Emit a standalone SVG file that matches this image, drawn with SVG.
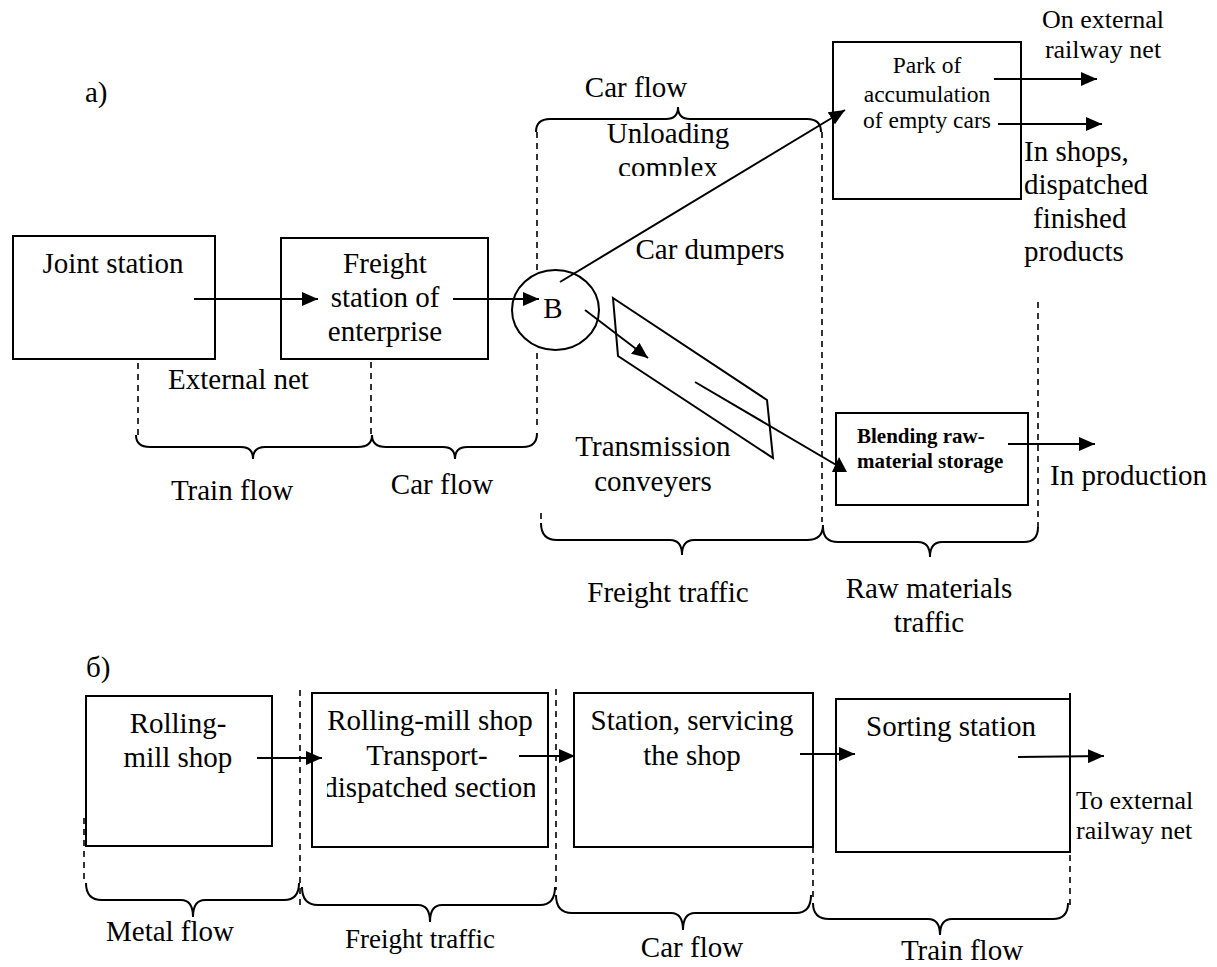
<svg xmlns="http://www.w3.org/2000/svg" width="1217" height="967" viewBox="0 0 1217 967">
<style>
text{font-family:"Liberation Serif","Times New Roman",serif;font-size:29px;fill:#000}
.c{text-anchor:middle}
.sm{font-size:23.5px}
.md{font-size:26px}
.b{font-weight:bold;font-size:21px}
.box{fill:#fff;stroke:#000;stroke-width:2}
.ln{fill:none;stroke:#000;stroke-width:2}
.dash{fill:none;stroke:#000;stroke-width:1.6;stroke-dasharray:6 5}
.br{fill:none;stroke:#000;stroke-width:2}
</style>
<defs>
<marker id="ah" markerWidth="16" markerHeight="14" refX="16" refY="7" orient="auto" markerUnits="userSpaceOnUse"><path d="M0,0 L16,7 L0,14 z" fill="#000"/></marker>
<clipPath id="clipComplex"><rect x="560" y="140" width="220" height="36"/></clipPath>
<clipPath id="clipSection"><rect x="327" y="770" width="208" height="40"/></clipPath>
</defs>
<rect width="1217" height="967" fill="#fff"/>

<!-- section labels -->
<text x="85" y="102">а)</text>
<text x="86" y="677">б)</text>

<!-- dashed lines and braces -->
<g id="brackets">
<path class="dash" d="M138,330 V435"/>
<path class="dash" d="M371,340 V435"/>
<path class="dash" d="M537,132 V282 M537,353 V430"/>
<path class="dash" d="M822,132 V522"/>
<path class="dash" d="M1038,302 V530"/>
<path class="dash" d="M541,513 V525"/>
<path class="br" d="M136,435 Q136,447 150,447 L241,447 Q253,447 253,459 Q253,447 265,447 L358,447 Q372,447 372,435"/>
<path class="br" d="M372,435 Q372,447 386,447 L443,447 Q455,447 455,459 Q455,447 467,447 L523,447 Q537,447 537,433"/>
<path class="br" d="M536,132 Q536,119 550,119 L666,119 Q678,119 678,107 Q678,119 690,119 L807,119 Q821,119 821,132"/>
<path class="br" d="M541,523 Q541,540 557,540 L670,540 Q682,540 682,555 Q682,540 694,540 L807,540 Q823,540 823,525"/>
<path class="br" d="M823,527 Q823,542 838,542 L918,542 Q930,542 930,557 Q930,542 942,542 L1024,542 Q1038,542 1038,527"/>

<path class="dash" d="M84,818 V883"/>
<path class="dash" d="M300,690 V908"/>
<path class="dash" d="M556,689 V890"/>
<path class="dash" d="M813,693 V897"/>
<path class="dash" d="M1070,855 V910"/>
<path class="br" d="M86,883 Q86,900 102,900 L181,900 Q193,900 193,917 Q193,900 205,900 L284,900 Q299,900 299,883"/>
<path class="br" d="M302,887 Q302,905 318,905 L418,905 Q430,905 430,922 Q430,905 442,905 L540,905 Q555,905 555,887"/>
<path class="br" d="M556,895 Q556,913 572,913 L671,913 Q683,913 683,930 Q683,913 695,913 L796,913 Q811,913 811,895"/>
<path class="br" d="M813,903 Q813,919 829,919 L928,919 Q940,919 940,935 Q940,919 952,919 L1053,919 Q1068,919 1068,903"/>
</g>

<!-- nodes (a) -->
<g id="joint-station">
<rect class="box" x="13" y="236" width="202" height="123"/>
<text class="c" x="113" y="273">Joint station</text>
</g>
<g id="freight-station">
<rect class="box" x="281" y="238" width="207" height="121"/>
<text class="c" x="385" y="273">Freight</text>
<text class="c" x="385" y="307">station of</text>
<text class="c" x="385" y="341">enterprise</text>
</g>
<g id="node-b">
<ellipse class="box" cx="555.5" cy="310" rx="43.5" ry="40"/>
<text class="c" x="553" y="318">B</text>
</g>
<g id="conveyer">
<polygon class="ln" points="613,298 767,400 773,458 618,356"/>
</g>
<g id="park">
<rect class="box" x="833" y="42" width="188" height="157"/>
<text class="c sm" x="927" y="73">Park of</text>
<text class="c sm" x="927" y="102">accumulation</text>
<text class="c sm" x="927" y="128">of empty cars</text>
</g>
<g id="blending">
<rect class="box" x="836" y="413" width="192" height="92"/>
<text class="b" x="857" y="443">Blending raw-</text>
<text class="b" x="857" y="468">material storage</text>
</g>

<!-- nodes (b) -->
<g id="rolling-mill-shop">
<rect class="box" x="86" y="696" width="186" height="150"/>
<text class="c" x="178" y="733">Rolling-</text>
<text class="c" x="178" y="767">mill shop</text>
</g>
<g id="transport-section">
<rect class="box" x="312" y="693" width="236" height="154"/>
<text class="c" x="430" y="730">Rolling-mill shop</text>
<text class="c" x="427" y="765">Transport-</text>
<text class="c" x="430" y="797" clip-path="url(#clipSection)">dispatched section</text>
</g>
<g id="servicing-station">
<rect class="box" x="574" y="693" width="239" height="154"/>
<text class="c" x="692" y="730">Station, servicing</text>
<text class="c" x="692" y="765">the shop</text>
</g>
<g id="sorting-station">
<rect class="box" x="836" y="699" width="234" height="153"/>
<path class="ln" d="M1070,693 V699"/>
<text class="c" x="951" y="736">Sorting station</text>
</g>

<!-- connectors -->
<g id="connectors">
<path class="ln" d="M194,299 H318" marker-end="url(#ah)"/>
<path class="ln" d="M453,299 H539" marker-end="url(#ah)"/>
<path class="ln" d="M560,282 L845,110" marker-end="url(#ah)"/>
<path class="ln" d="M585,310 L648,358" marker-end="url(#ah)"/>
<path class="ln" d="M695,382 L838,466"/>
<polygon points="839,457 832,472 847,472" fill="#000"/>
<path class="ln" d="M994,79 H1097" marker-end="url(#ah)"/>
<path class="ln" d="M998,124 H1102" marker-end="url(#ah)"/>
<path class="ln" d="M1008,444 H1095" marker-end="url(#ah)"/>
<path class="ln" d="M257,758 H322" marker-end="url(#ah)"/>
<path class="ln" d="M519,756 H575" marker-end="url(#ah)"/>
<path class="ln" d="M800,754 H855" marker-end="url(#ah)"/>
<path class="ln" d="M1018,757 L1104,756" marker-end="url(#ah)"/>
</g>

<!-- free labels -->
<g id="labels">
<text class="c" x="636" y="97">Car flow</text>
<text class="c" x="668" y="143">Unloading</text>
<text class="c" x="668" y="177" clip-path="url(#clipComplex)">complex</text>
<text class="c" x="710" y="259">Car dumpers</text>
<text class="c" x="653" y="456">Transmission</text>
<text class="c" x="653" y="491">conveyers</text>
<text x="168" y="389">External net</text>
<text class="c" x="232" y="500">Train flow</text>
<text class="c" x="442" y="494">Car flow</text>
<text class="c" x="668" y="602">Freight traffic</text>
<text class="c" x="929" y="598">Raw materials</text>
<text class="c" x="929" y="632">traffic</text>
<text class="c md" x="1103" y="28">On external</text>
<text class="c md" x="1103" y="58">railway net</text>
<text x="1024" y="161">In shops,</text>
<text x="1024" y="194">dispatched</text>
<text x="1033" y="228">finished</text>
<text x="1024" y="261">products</text>
<text x="1050" y="485">In production</text>
<text class="md" x="1076" y="809">To external</text>
<text class="md" x="1076" y="839">railway net</text>
<text class="c" x="170" y="941">Metal flow</text>
<text class="c" x="420" y="948" style="font-size:27px">Freight traffic</text>
<text class="c" x="692" y="957">Car flow</text>
<text class="c" x="962" y="960">Train flow</text>
</g>
</svg>
